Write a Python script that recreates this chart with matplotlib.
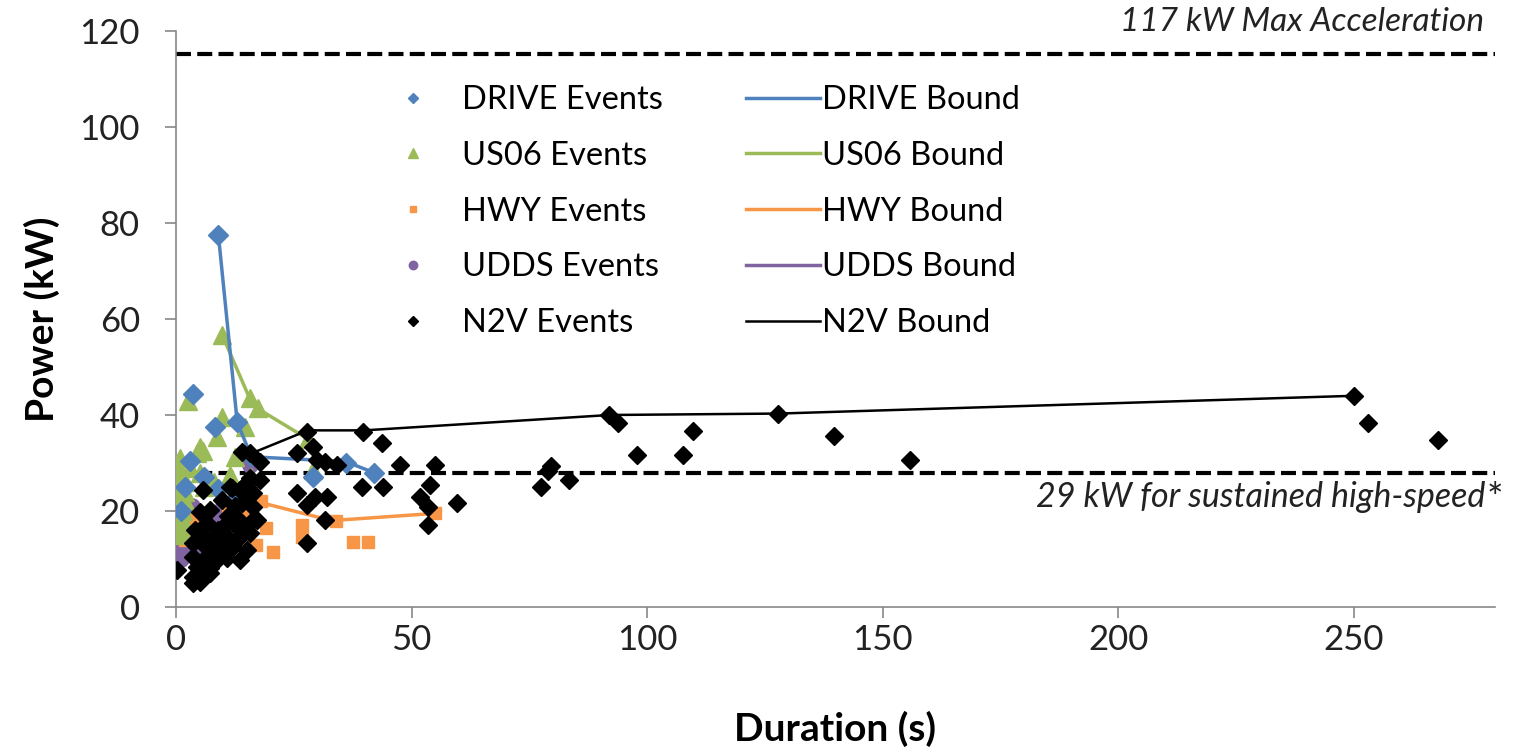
import matplotlib.pyplot as plt

plt.rcParams['font.family'] = ['Lato', 'DejaVu Sans']

###### Data
# DRIVE
drive_x = [9, 3.6, 8.3, 13, 16, 36, 42, 29, 3, 9, 6, 12, 1, 2]
drive_y = [77.5, 44.3, 37.5, 38.5, 31.5, 30, 28, 27, 30.5, 24.5, 27, 22, 20, 25]
drive_bx = [9, 13, 16, 36, 42]
drive_by = [77.5, 38.5, 31.3, 30.3, 28]

# US06
us06_x = [9.8, 2.5, 15.7, 17.4, 9.8, 14.6, 8.7, 5, 0.8, 4.4, 5.8, 12.5, 28, 29,
          11.5, 5.1, 1.3, 1, 1, 1.2, 1, 1.3, 1, 1.5, 1, 1, 1.2, 1, 1.5, 2, 2, 2,
          6, 8, 3, 16, 0.6, 0.6, 0.8]
us06_y = [56.7, 43, 43.5, 41.5, 39.6, 37.5, 35.5, 33.4, 31, 32, 32.5, 31.3, 35,
          28.5, 27.5, 27.9, 27.5, 26, 25, 24, 23, 22, 21, 20, 19, 18, 17, 16, 15,
          24, 22, 26, 25, 26, 29, 27, 29, 23, 19]
us06_bx = [9.8, 15.7, 17.4, 28]
us06_by = [56.7, 43.3, 41.3, 35]

# HWY
hwy_x = [18, 19, 20.6, 26.7, 26.7, 34, 37.6, 40.8, 55, 17, 11, 7, 4, 14, 2]
hwy_y = [22, 16.5, 11.5, 17, 14.6, 18, 13.5, 13.5, 19.5, 13, 21, 16, 18.5, 19, 14]
hwy_bx = [11, 17, 33, 55]
hwy_by = [21, 22, 18, 19.5]

# UDDS
udds_x = [1, 1, 1.5, 1, 2, 2.5, 3, 3, 4, 4, 5, 2, 0.5, 3.5, 6, 9, 11, 12, 13,
          14, 15.7, 16, 16, 15, 10, 0.7, 1.2, 2, 2.5, 0.8]
udds_y = [10, 12, 14, 16, 18, 20, 17, 13, 15, 11, 19, 21, 13, 21, 16, 19, 14,
          17, 20, 22, 29.5, 26, 23, 18, 21, 18, 20, 15, 11, 11.5]
udds_bx = [2, 9, 15.5, 16]
udds_by = [20.5, 19.5, 22, 29.5]

# N2V
n2v_x = [27.8, 14, 15.7, 17.8, 25.7, 29, 30, 31.6, 34.2, 25.7, 27.8, 29.5, 32,
         31.6, 27.8, 5.7, 9.8, 11.9, 14, 15.7, 17.8, 0.3, 3.6, 3.6,
         39.7, 43.7, 47.6, 55, 39.5, 44, 54, 51.8, 53.5, 59.6, 53.5,
         77.5, 79.5, 79, 83.5, 92, 93.8, 97.8, 109.8, 107.6, 127.8, 139.7,
         155.8, 250, 253, 268,
         11.5, 13.6, 7.2, 5.1, 14, 17.2, 6.6, 10.8, 13, 5.1, 7.9, 10.8, 13.6,
         15.7, 3.6, 6.6, 9.3, 12.1, 3.6, 5.7, 8.7, 10.8, 4.5, 7.2, 5.1, 7.2,
         15, 16.3, 4, 15.7, 13, 15, 16.3, 15, 13.6, 9, 8, 6, 11, 12.5]
n2v_y = [36.5, 32.3, 32, 30.3, 32, 33.4, 30.6, 30.3, 29.6, 23.7, 21.3, 23, 23,
         18.1, 13.3, 24.4, 22.3, 24.8, 24.8, 26.9, 26.5, 7.7, 6.3, 5,
         36.5, 34.2, 29.6, 29.6, 25, 25, 25.4, 23, 20.8, 21.7, 17.1,
         25, 29.4, 28.3, 26.5, 40, 38.3, 31.7, 36.7, 31.7, 40.2, 35.6,
         30.6, 44, 38.3, 34.8,
         25, 24.4, 20.2, 19.8, 21.7, 18.1, 17.5, 17.5, 18.5, 15.4, 14.6, 14.6,
         14.6, 15.4, 13.3, 12.5, 12.3, 12.5, 10.4, 9.8, 9.8, 10.2, 8.3, 8.1,
         5.2, 7, 25.8, 23.7, 16, 17.5, 16.7, 11.9, 20.8, 23.7, 9.8, 16, 11,
         13, 19, 21]
n2v_bx = [16, 28, 40, 92, 128, 250]
n2v_by = [32, 36.8, 36.8, 40, 40.3, 44]

max_accel = 115.3
sustained = 28

blue = '#4F81BD'
green = '#9BBB59'
orange = '#F79646'
purple = '#8064A2'

W, H = 1513, 753

###### Plot
fig = plt.figure(figsize=(W / 100, H / 100), dpi=100)
ax = fig.add_axes([176 / W, 1 - 607 / H, 1319 / W, 576 / H])

dash = (0, (3.6, 1.5))
ax.axhline(max_accel, color='k', lw=3, ls=dash, zorder=1)
ax.axhline(sustained, color='k', lw=3, ls=dash, zorder=1)

p_uddsb, = ax.plot(udds_bx, udds_by, '-', color=purple, lw=2.5, zorder=3)
p_udds, = ax.plot(udds_x, udds_y, 'o', color=purple, ms=11, zorder=3)
p_hwyb, = ax.plot(hwy_bx, hwy_by, '-', color=orange, lw=2.5, zorder=3)
p_hwy, = ax.plot(hwy_x, hwy_y, 's', color=orange, ms=9, zorder=3)
p_us06b, = ax.plot(us06_bx, us06_by, '-', color=green, lw=2.5, zorder=3)
p_us06, = ax.plot(us06_x, us06_y, '^', color=green, ms=13, zorder=3)
p_driveb, = ax.plot(drive_bx, drive_by, '-', color=blue, lw=2.5, zorder=3)
p_drive, = ax.plot(drive_x, drive_y, 'D', color=blue, ms=10, zorder=3)
p_n2vb, = ax.plot(n2v_bx, n2v_by, '-', color='k', lw=1.8, zorder=4)
p_n2v, = ax.plot(n2v_x, n2v_y, 'D', color='k', ms=9, zorder=4)

ax.set_xlim(0, 280)
ax.set_ylim(0, 120)
ax.set_xticks(range(0, 251, 50))
ax.set_yticks(range(0, 121, 20))
for s in ['top', 'right']:
    ax.spines[s].set_visible(False)
for s in ['left', 'bottom']:
    ax.spines[s].set_color('#888888')
    ax.spines[s].set_linewidth(1.2)
ax.tick_params(colors='#888888', labelcolor='#222222', labelsize=25,
               length=8, width=1.2)
ax.tick_params(axis='x', pad=4)
ax.tick_params(axis='y', pad=18)

ax.set_xlabel('Duration (s)', fontsize=28, fontweight='bold', labelpad=40)
ax.set_ylabel('Power (kW)', fontsize=28, fontweight='bold', labelpad=14)

ax.text(0.992, 1.016, '117 kW Max Acceleration', transform=ax.transAxes,
        ha='right', va='center', fontsize=24, style='italic', color='#222222')
ax.text(0.9924, 0.191, '29 kW for sustained high-speed', transform=ax.transAxes,
        ha='right', va='center', fontsize=24.5, style='italic', color='#222222')
ax.text(1.006, 0.186, '*', transform=ax.transAxes,
        ha='right', va='center', fontsize=28, color='#222222')

# Two legends: events on the left, bounds on the right
top = 1 - 85 / H
leg1 = fig.legend([p_drive, p_us06, p_hwy, p_udds, p_n2v],
                  ['DRIVE Events', 'US06 Events', 'HWY Events', 'UDDS Events',
                   'N2V Events'],
                  loc='upper left', bbox_to_anchor=(397 / W, top), frameon=False,
                  fontsize=23.5, markerscale=0.55, handlelength=1.0,
                  handletextpad=1.0, labelspacing=0.79, borderpad=0,
                  borderaxespad=0)
leg2 = fig.legend([p_driveb, p_us06b, p_hwyb, p_uddsb, p_n2vb],
                  ['DRIVE Bound', 'US06 Bound', 'HWY Bound', 'UDDS Bound',
                   'N2V Bound'],
                  loc='upper left', bbox_to_anchor=(746 / W, top), frameon=False,
                  fontsize=23.5, handlelength=2.27, handletextpad=0.06,
                  labelspacing=0.79, borderpad=0, borderaxespad=0)

fig.savefig('out.png', dpi=100)
